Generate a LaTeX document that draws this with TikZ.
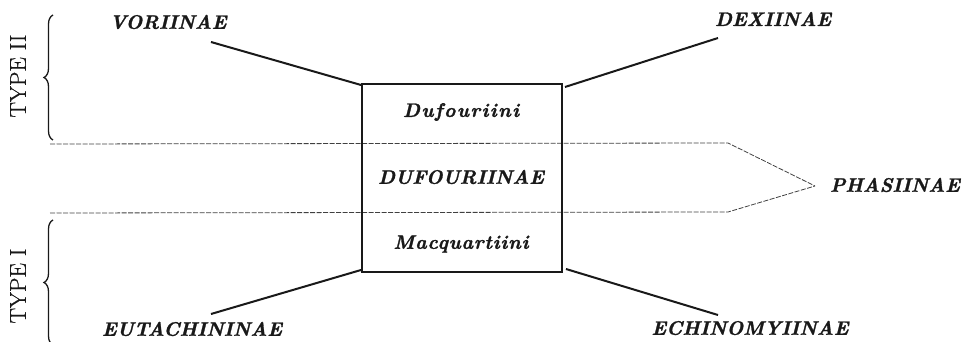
\documentclass[tikz,border=0pt]{standalone}
\usepackage{fontspec}
\newfontfamily\labfont{Latin Modern Roman}[FakeBold=1.4]
\newfontfamily\tribefont{Latin Modern Roman}[FakeBold=1.4,LetterSpace=7]
\newfontfamily\tribefontb{Latin Modern Roman}[FakeBold=1.4,LetterSpace=4]
\newfontfamily\typefont{Latin Modern Roman}[FakeBold=0.8]
\usetikzlibrary{decorations.pathreplacing}
\begin{document}
\begin{tikzpicture}[x=1pt,y=-1pt,
  lab/.style={font=\labfont\fontsize{19.5}{21}\selectfont\bfseries\itshape, inner sep=0pt, text=black!90},
  tribe/.style={font=\tribefont\fontsize{19.5}{21}\selectfont\bfseries\itshape, inner sep=0pt, text=black!90},
  tribeb/.style={font=\tribefontb\fontsize{19.5}{21}\selectfont\bfseries\itshape, inner sep=0pt, text=black!90},
  typelab/.style={font=\typefont\fontsize{23}{24}\selectfont, inner sep=0pt, rotate=90, text=black!90},
  conn/.style={line width=2pt, black!90},
  boxline/.style={line width=1.5pt, black!90},
  dline/.style={line width=0.8pt, black!75, dash pattern=on 5pt off 1.5pt},
  brace/.style={decorate, decoration={brace, amplitude=9pt}, line width=1.3pt, black!90}]
\useasboundingbox (0,0) rectangle (962,342);
% box corners
\coordinate (tl) at (362,84);
\coordinate (tr) at (562,84);
\coordinate (bl) at (362,272);
\coordinate (br) at (562,272);
% dashed band
\coordinate (ul) at (50,144);
\coordinate (uk) at (728,143);
\coordinate (ll) at (50,213);
\coordinate (lk) at (728,212);
\coordinate (tip) at (815,186);
\draw[dline] (ul) -- (uk) -- (tip);
\draw[dline] (ll) -- (lk) -- (tip);
% box
\draw[boxline] (tl) -- (tr) -- (br) -- (bl) -- cycle;
% row labels
\node[tribe] (duf) at (461,112) {Dufouriini};
\node[lab] (dufn) at (461,177) {DUFOURIINAE};
\node[tribeb] (mac) at (461,244) {Macquartiini};
% outer labels
\node[lab] (vor) at (168,22) {VORIINAE};
\node[lab] (dex) at (773,19) {DEXIINAE};
\node[lab] (pha) at (895,185) {PHASIINAE};
\node[lab] (eut) at (192,329) {EUTACHININAE};
\node[lab] (ech) at (750,328) {ECHINOMYIINAE};
% connector ends
\coordinate (vend) at (211,42);
\coordinate (dend) at (718,38);
\coordinate (eend) at (211,314);
\coordinate (cend) at (718,315);
\draw[conn] (vend) -- ([xshift=-1pt,yshift=-1pt]tl);
\draw[conn] (dend) -- ([xshift=3pt,yshift=-3pt]tr);
\draw[conn] (eend) -- ([xshift=-1pt,yshift=2pt]bl);
\draw[conn] (cend) -- ([xshift=4pt,yshift=3pt]br);
% braces
\coordinate (b2a) at (53,140);
\coordinate (b2b) at (53,15);
\coordinate (b1a) at (53,345);
\coordinate (b1b) at (53,220);
\draw[brace] (b2a) -- (b2b);
\draw[brace] (b1a) -- (b1b);
\node[typelab] (t2) at (18,76) {TYPE II};
\node[typelab] (t1) at (18,286) {TYPE I};
\end{tikzpicture}
\end{document}
